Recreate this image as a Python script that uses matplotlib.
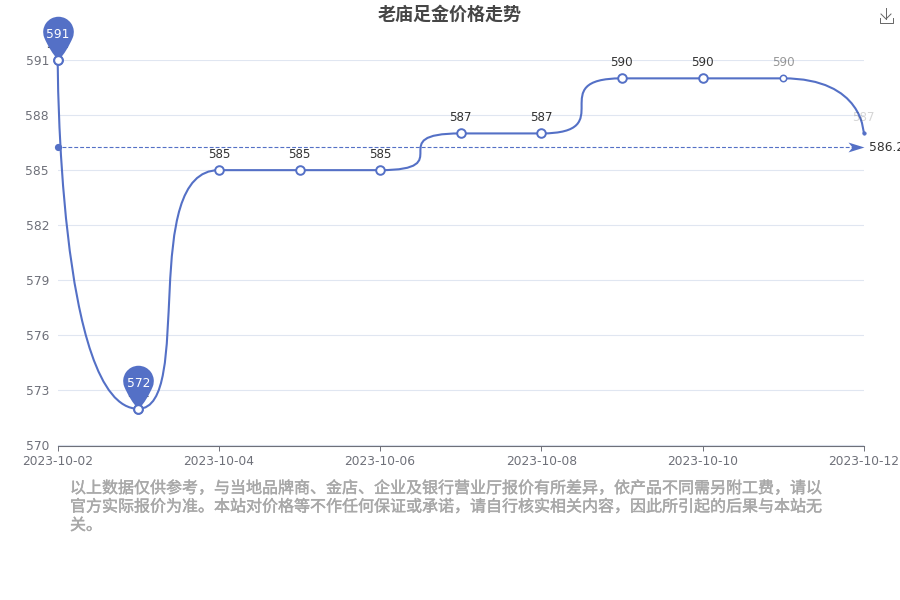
import matplotlib
matplotlib.use('Agg')
import matplotlib.pyplot as plt
import matplotlib.patheffects as pe
from matplotlib.lines import Line2D
from matplotlib.path import Path
from matplotlib.patches import PathPatch

plt.rcParams['font.family'] = ['DejaVu Sans']
CJK = ['Noto Sans CJK SC', 'DejaVu Sans']

dates = ['2023-10-02', '2023-10-03', '2023-10-04', '2023-10-05', '2023-10-06', '2023-10-07',
         '2023-10-08', '2023-10-09', '2023-10-10', '2023-10-11', '2023-10-12']
prices = [591, 572, 585, 585, 585, 587, 587, 590, 590, 590, 587]
yticks = [570, 573, 576, 579, 582, 585, 588, 591]
average = 586.25
title = '老庙足金价格走势'
note = ['以上数据仅供参考，与当地品牌商、金店、企业及银行营业厅报价有所差异，依产品不同需另附工费，请以',
        '官方实际报价为准。本站对价格等不作任何保证或承诺，请自行核实相关内容，因此所引起的后果与本站无',
        '关。']

BLUE = '#5470c6'
W, H = 900, 600

fig = plt.figure(figsize=(9, 6), dpi=100)
ax = fig.add_axes([57.7 / W, 1 - 445.5 / H, 806 / W, 385.5 / H])
xs = list(range(len(prices)))
ax.set_xlim(0, 10)
ax.set_ylim(570, 591)

for s in ['top', 'left', 'right']:
    ax.spines[s].set_visible(False)
ax.spines['bottom'].set_color('#6e7079')
ax.spines['bottom'].set_linewidth(0.8)
ax.set_xticks(xs[::2])
ax.set_xticklabels(dates[::2])
ax.set_yticks(yticks)
ax.tick_params(axis='x', length=3.6, width=0.7, color='#6e7079', labelcolor='#6e7079', labelsize=8.8, pad=3)
ax.tick_params(axis='y', length=0, labelcolor='#6e7079', labelsize=8.8, pad=6.2)
ax.grid(axis='y', color='#e0e6f1', lw=0.8)
ax.set_axisbelow(True)


def clamp(v, a, b):
    return max(min(a, b), min(v, max(a, b)))


# spline of the original line: handles are worked out in pixels and kept between neighbours
def smooth_path(x, y):
    sx = 806 / 10
    sy = 385.5 / 21
    px = [v * sx for v in x]
    py = [v * sy for v in y]
    n = len(px)
    cp_in = [(px[i], py[i]) for i in range(n)]
    cp_out = [(px[i], py[i]) for i in range(n)]
    for i in range(1, n - 1):
        l0 = ((px[i] - px[i - 1]) ** 2 + (py[i] - py[i - 1]) ** 2) ** 0.5
        l1 = ((px[i + 1] - px[i]) ** 2 + (py[i + 1] - py[i]) ** 2) ** 0.5
        r = l1 / (l0 + l1)
        nx = clamp(px[i] + (px[i + 1] - px[i - 1]) * r, px[i], px[i + 1])
        ny = clamp(py[i] + (py[i + 1] - py[i - 1]) * r, py[i], py[i + 1])
        vx, vy = nx - px[i], ny - py[i]
        cx = clamp(px[i] - vx * l0 / l1, px[i - 1], px[i])
        cy = clamp(py[i] - vy * l0 / l1, py[i - 1], py[i])
        vx, vy = px[i] - cx, py[i] - cy
        cp_in[i] = (cx, cy)
        cp_out[i] = (px[i] + vx * l1 / l0, py[i] + vy * l1 / l0)
    verts = [(x[0], y[0])]
    codes = [Path.MOVETO]
    for i in range(n - 1):
        verts.append((cp_out[i][0] / sx, cp_out[i][1] / sy))
        verts.append((cp_in[i + 1][0] / sx, cp_in[i + 1][1] / sy))
        verts.append((x[i + 1], y[i + 1]))
        codes += [Path.CURVE4] * 3
    return Path(verts, codes)


ax.add_patch(PathPatch(smooth_path(xs, prices), fc='none', ec=BLUE, lw=1.5, clip_on=False, zorder=3, snap=False))

# average line
ax.plot([0.05, 9.9], [average, average], color=BLUE, lw=0.8, ls=(0, (3.5, 1.8)), clip_on=False, zorder=3)
ax.plot([0], [average], 'o', color=BLUE, ms=5.2, clip_on=False, zorder=4, mew=0)
arrow = Path([(-1, 0.62), (1, 0), (-1, -0.62), (-0.5, 0), (-1, 0.62)],
             [Path.MOVETO, Path.LINETO, Path.LINETO, Path.LINETO, Path.CLOSEPOLY])
ax.plot([9.9], [average], marker=arrow, color=BLUE, ms=11.5, mew=0, clip_on=False, zorder=4)
ax.annotate(f'{average:.1f}', (10, average), xytext=(3.5, 0), textcoords='offset points', va='center',
            fontsize=8.8, color='#333333', annotation_clip=False)

# points and labels, the last two are still fading in on the original
for i, (x, p) in enumerate(zip(xs, prices)):
    ms, mew, alpha, face = 6.2, 1.4, 1, 'white'
    if i == 9:
        ms, mew, alpha = 4.6, 1.1, 0.5
    if i == 10:
        ms, mew, alpha, face = 2.4, 0.6, 0.2, BLUE
    ax.plot([x], [p], 'o', ms=ms, mfc=face, mec=BLUE, mew=mew, clip_on=False, zorder=5)
    ax.annotate(str(p), (x, p), xytext=(0, 6.5), textcoords='offset points', ha='center', va='bottom',
                fontsize=8.6, color='#333333', alpha=alpha, annotation_clip=False, zorder=4)

# max / min pins
arc = Path.arc(-20, 200)
arc_v = [(0.35 * vx, 0.65 + 0.35 * vy) for vx, vy in arc.vertices]
pin_v = [(0, 0), (0.2, 0.22), arc_v[0]] + arc_v[1:] + [(-0.2, 0.22), (0, 0), (0, 0)]
pin_c = [Path.MOVETO, Path.CURVE3, Path.CURVE3] + [Path.CURVE4] * (len(arc_v) - 1) + [Path.CURVE3, Path.CURVE3, Path.CLOSEPOLY]
pin = Path(pin_v, pin_c)
for i in [prices.index(max(prices)), prices.index(min(prices))]:
    ax.plot([xs[i]], [prices[i]], marker=pin, ms=63, color=BLUE, mew=0, clip_on=False, zorder=6)
    ax.plot([xs[i]], [prices[i]], 'o', ms=6.2, mfc='white', mec=BLUE, mew=1.4, clip_on=False, zorder=7)
    ax.annotate(str(prices[i]), (xs[i], prices[i]), xytext=(0, 18.5), textcoords='offset points', ha='center',
                va='center', fontsize=8.8, color='white', annotation_clip=False, zorder=8)

fig.text(450 / W, 1 - 14 / H, title, family=CJK, fontsize=13, fontweight='bold', color='#464646',
         ha='center', va='center')

for line, y in zip(note, [488.5, 507, 525.5]):
    fig.text(70 / W, 1 - y / H, line, family=CJK, fontsize=11.52, color='#a8a8a8', va='center',
             path_effects=[pe.withStroke(linewidth=0.3, foreground='#a8a8a8')])


# download icon
def px_line(xp, yp):
    fig.add_artist(Line2D([v / W for v in xp], [1 - v / H for v in yp], color='#666666', lw=0.7))


px_line([879.5, 879.5, 892.5, 892.5], [18, 22.5, 22.5, 18])
px_line([886, 886], [8, 19])
px_line([881, 886, 891], [14, 19, 14])

fig.savefig('out.png', dpi=100)
